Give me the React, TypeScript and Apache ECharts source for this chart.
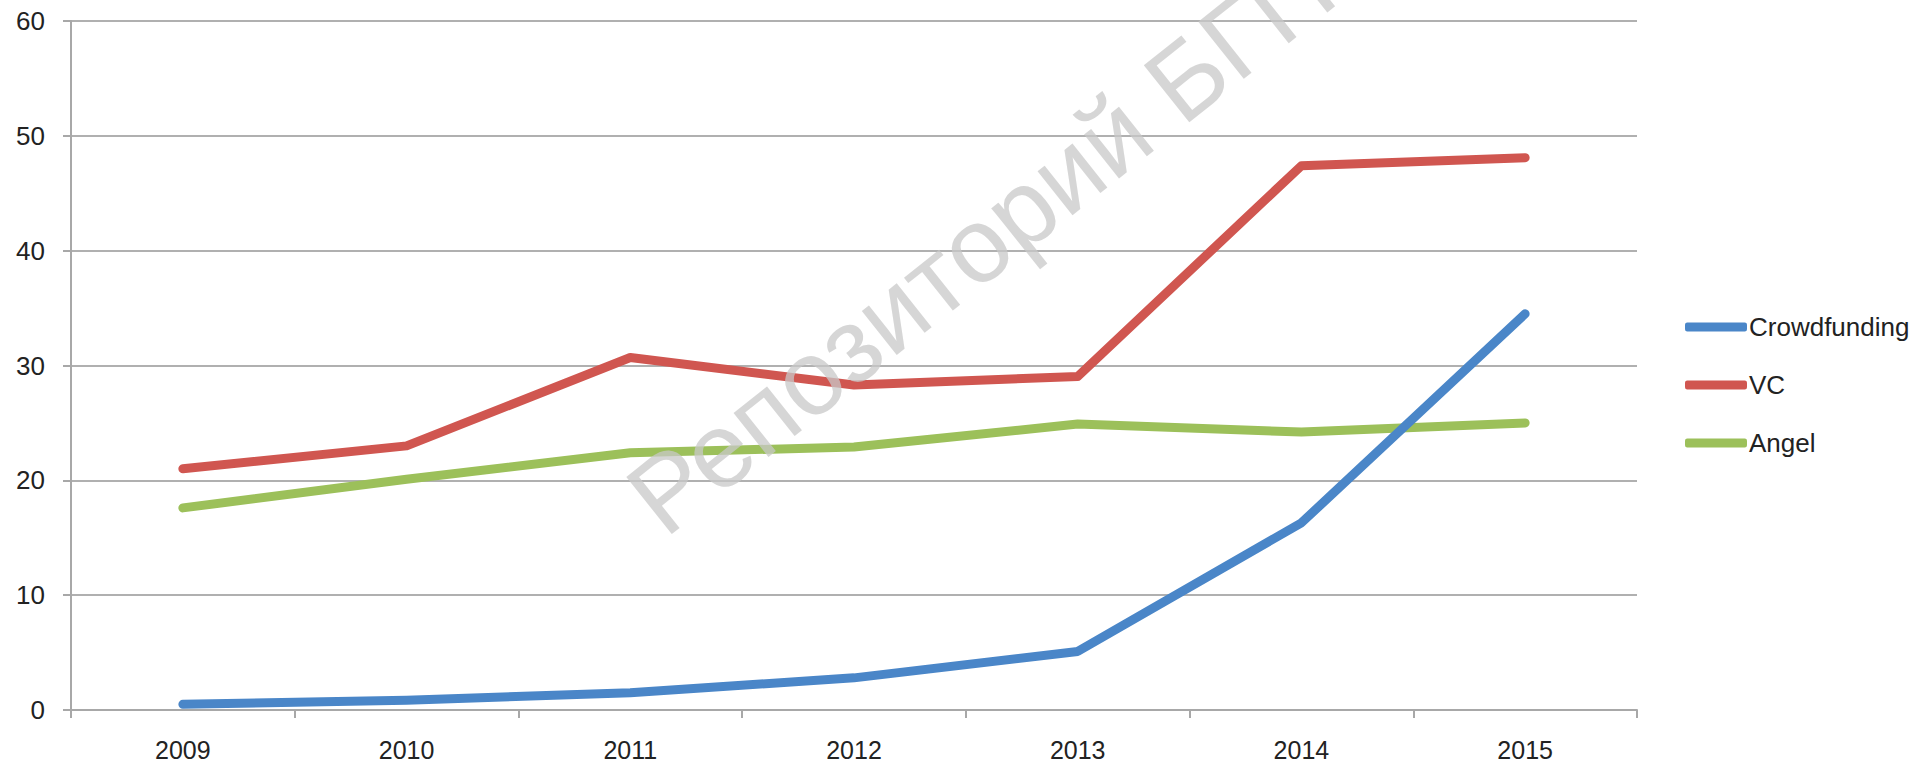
import React, { useEffect, useRef } from "react";
import * as echarts from "echarts";

const years = ["2009", "2010", "2011", "2012", "2013", "2014", "2015"];
const crowdfunding = [0.5, 0.85, 1.5, 2.8, 5.1, 16.3, 34.5];
const vc = [21.0, 23.0, 30.7, 28.3, 29.05, 47.4, 48.1];
const angel = [17.6, 20.1, 22.4, 22.9, 24.9, 24.2, 25.0];
const seriesNames = ["Crowdfunding", "VC", "Angel"];
const colors = ["#4A86C8", "#D05650", "#9CC05A"];
const watermark = "Репозиторий БГПУ";

export default function App() {
  const ref = useRef<HTMLDivElement>(null);
  useEffect(() => {
    if (!ref.current) return;
    const chart = echarts.init(ref.current, null, { renderer: "svg" });
    const font = "'Liberation Sans', Arial, sans-serif";
    const data = [crowdfunding, vc, angel];
    chart.setOption({
      animation: false,
      backgroundColor: "#ffffff",
      grid: { left: 71, right: 288, top: 21, bottom: 52, containLabel: false },
      xAxis: {
        type: "category",
        data: years,
        boundaryGap: true,
        axisLine: { show: true, lineStyle: { color: "#a8a8a8", width: 2 } },
        axisTick: { show: true, length: 8, alignWithLabel: false, lineStyle: { color: "#a8a8a8", width: 2 } },
        axisLabel: { color: "#222", fontSize: 25, fontFamily: font, margin: 27 },
        splitLine: { show: false },
      },
      yAxis: {
        type: "value",
        min: 0,
        max: 60,
        interval: 10,
        axisLine: { show: true, lineStyle: { color: "#a8a8a8", width: 2 } },
        axisTick: { show: true, length: 8, lineStyle: { color: "#a8a8a8", width: 2 } },
        axisLabel: { color: "#222", fontSize: 26, fontFamily: font, margin: 26 },
        splitLine: { show: true, lineStyle: { color: "#b0b0b0", width: 2 } },
      },
      legend: {
        orient: "vertical",
        left: 1685,
        top: 314,
        padding: 0,
        itemGap: 32,
        itemWidth: 62,
        itemHeight: 9,
        icon: "roundRect",
        textStyle: { color: "#222", fontSize: 26, fontFamily: font, lineHeight: 26, padding: [0, 0, 0, -3] },
        data: seriesNames,
      },
      series: seriesNames.map((name, i) => ({
        name,
        type: "line",
        data: data[i],
        symbol: "none",
        color: colors[i],
        lineStyle: { color: colors[i], width: 9, cap: "round", join: "round" },
        z: 3 - i,
      })),
      graphic: [
        {
          type: "text",
          x: 675,
          y: 552,
          rotation: (38.5 * Math.PI) / 180,
          z: 100,
          style: {
            text: watermark,
            fill: "rgba(200,200,200,0.75)",
            fontSize: 106,
            fontFamily: font,
            align: "left",
            verticalAlign: "bottom",
          },
        },
      ],
    });
    return () => chart.dispose();
  }, []);
  return <div ref={ref} style={{ position: "fixed", left: 0, top: 0, width: 1925, height: 762 }} />;
}
